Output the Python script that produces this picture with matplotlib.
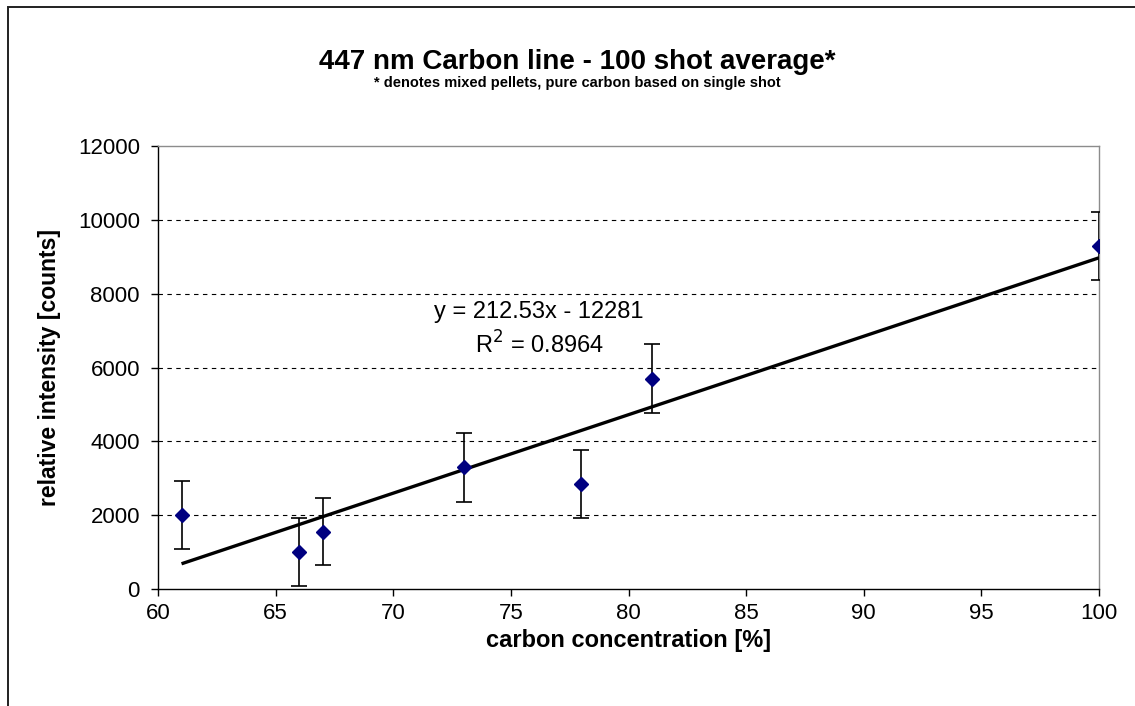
import matplotlib
matplotlib.use("Agg")
import matplotlib.pyplot as plt
from matplotlib import font_manager
from matplotlib.patches import Rectangle

# Carbon concentration vs. relative intensity of the 447 nm line
concentration = [61, 66, 67, 73, 78, 81, 100]
intensity = [2000, 1000, 1550, 3300, 2850, 5700, 9300]
intensity_err = [930, 930, 910, 930, 920, 930, 920]

# Linear trendline as reported
slope = 212.53
intercept = -12281
r_squared = 0.8964

x_ticks = [60, 65, 70, 75, 80, 85, 90, 95, 100]
y_ticks = [0, 2000, 4000, 6000, 8000, 10000, 12000]

title = "447 nm Carbon line - 100 shot average*"
subtitle = "* denotes mixed pellets, pure carbon based on single shot"
x_label = "carbon concentration [%]"
y_label = "relative intensity [counts]"

available = {f.name for f in font_manager.fontManager.ttflist}
base_font = "Liberation Sans" if "Liberation Sans" in available else "DejaVu Sans"
narrow_font = "Liberation Sans Narrow" if "Liberation Sans Narrow" in available else base_font
plt.rcParams["font.family"] = [base_font, "DejaVu Sans"]

fig = plt.figure(figsize=(11.35, 7.06), dpi=100)
fig.patch.set_facecolor("white")

# chart-area frame
fig.add_artist(Rectangle((8 / 1135, -0.05), 1.2, 1 - 7 / 706 + 0.05,
                         transform=fig.transFigure, fill=False,
                         edgecolor="#202020", linewidth=1.4))

ax = fig.add_axes([158 / 1135, 1 - 589 / 706, (1099 - 158) / 1135, (589 - 146) / 706])
ax.set_xlim(60, 100)
ax.set_ylim(0, 12000)
ax.set_xticks(x_ticks)
ax.set_yticks(y_ticks)
ax.tick_params(axis="both", direction="out", length=5, width=1, labelsize=16,
               colors="black")
ax.tick_params(axis="x", pad=5)
ax.tick_params(axis="y", pad=8)

for y in y_ticks[1:-1]:
    ax.axhline(y, color="black", linestyle=(0, (4, 4)), linewidth=0.8, zorder=1)

for side in ("left", "bottom"):
    ax.spines[side].set_color("black")
    ax.spines[side].set_linewidth(1.0)
for side in ("top", "right"):
    ax.spines[side].set_color("#8c8c8c")
    ax.spines[side].set_linewidth(1.0)

# trendline across the data range
x0, x1 = min(concentration), max(concentration)
ax.plot([x0, x1], [slope * x0 + intercept, slope * x1 + intercept],
        color="black", linewidth=2.4, zorder=3, solid_capstyle="butt")

ax.errorbar(concentration, intensity, yerr=intensity_err, fmt="none",
            ecolor="black", elinewidth=1.2, capsize=6, capthick=1.2, zorder=4)
ax.plot(concentration, intensity, linestyle="none", marker="D", markersize=7.5,
        markerfacecolor="#000080", markeredgecolor="#000080", zorder=5)

ax.text(76.2, 7500, f"y = {slope}x - {abs(intercept)}", ha="center", va="center",
        fontsize=17)
ax.text(76.2, 6600, f"R$^2$ = {r_squared}", ha="center", va="center", fontsize=17)

ax.set_xlabel(x_label, fontsize=17, fontweight="bold", labelpad=4)
ax.set_ylabel(y_label, fontsize=16.5, fontweight="bold", labelpad=12)

fig.text(0.509, 1 - 62 / 706, title, ha="center", va="center", fontsize=20,
         fontweight="bold", family=[narrow_font, "DejaVu Sans"])
fig.text(0.509, 1 - 83 / 706, subtitle, ha="center", va="center", fontsize=10.5,
         fontweight="bold")

fig.savefig("out.png", dpi=100, facecolor="white")
